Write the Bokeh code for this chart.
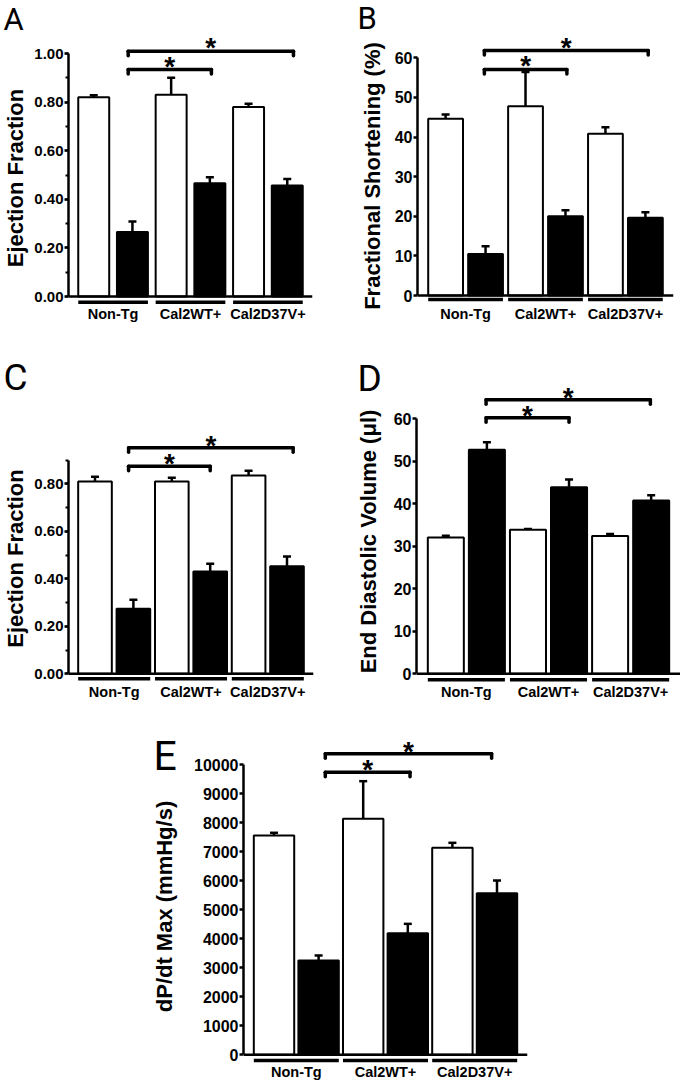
from bokeh.plotting import figure
from bokeh.layouts import row, column
from bokeh.models import (FactorRange, Range1d, Span, Label, SingleIntervalTicker,
                          NumeralTickFormatter, ColumnDataSource)
from bokeh.core.properties import value
from bokeh.embed import file_html
from bokeh.resources import INLINE

# ---------------- data ----------------
groups = ["Non-Tg", "Cal2WT+", "Cal2D37V+"]
conditions = ["open", "filled"]
comparisons = [("Non-Tg", "Cal2WT+"), ("Non-Tg", "Cal2D37V+")]

# A: Ejection Fraction
a_open = [0.82, 0.83, 0.78]
a_open_sem = [0.008, 0.07, 0.013]
a_filled = [0.265, 0.466, 0.457]
a_filled_sem = [0.044, 0.025, 0.027]
a_sig = [0.934, 1.009]

# B: Fractional Shortening (%)
b_open = [44.6, 47.8, 40.8]
b_open_sem = [1.1, 8.6, 1.7]
b_filled = [10.5, 20.0, 19.6]
b_filled_sem = [1.9, 1.5, 1.4]
b_sig = [57.05, 61.84]

# C: Ejection Fraction
c_open = [0.81, 0.81, 0.835]
c_open_sem = [0.02, 0.015, 0.02]
c_filled = [0.274, 0.431, 0.453]
c_filled_sem = [0.038, 0.032, 0.041]
c_sig = [0.874, 0.952]

# D: End Diastolic Volume (ul)
d_open = [32.1, 33.9, 32.4]
d_open_sem = [0.4, 0.15, 0.5]
d_filled = [52.7, 43.9, 40.8]
d_filled_sem = [1.8, 1.8, 1.2]
d_sig = [60.24, 64.47]

# E: dP/dt Max (mmHg/s)
e_open = [7560, 8140, 7140]
e_open_sem = [95, 1295, 170]
e_filled = [3250, 4190, 5570]
e_filled_sem = [175, 325, 440]
e_sig = [9745, 10379]

FONT = "Liberation Sans"


def make_panel(sp, opn, opn_sem, fil, fil_sem, sig, ylabel):
    ox, oy, w, h = sp["box"]
    mb_l = round(sp["L"] - ox)
    mb_r = round(ox + w - sp["R"])
    mb_t = round(sp["T"] - oy)
    mb_b = round(oy + h - sp["B"])
    L = ox + mb_l
    R = ox + w - mb_r
    T = oy + mb_t
    B = oy + h - mb_b
    ppy = sp["ppy"]
    zero = sp["zero"]
    y0 = -(B - zero) / ppy
    y1 = (zero - T) / ppy
    pad = sp["pad"]
    u = (R - L) / (6 + 2 * pad)

    def xsyn(px):
        return -pad + (px - L) / u

    def ysyn(py):
        return (zero - py) / ppy

    factors = [f"{g}|{c}" for g in groups for c in conditions]
    open_f = [f"{g}|open" for g in groups]
    fill_f = [f"{g}|filled" for g in groups]

    p = figure(width=w, height=h,
               x_range=FactorRange(factors=factors, factor_padding=0,
                                   range_padding=2 * pad / 6),
               y_range=Range1d(y0, y1),
               x_axis_location=None, output_backend="svg", toolbar_location=None,
               min_border_left=mb_l, min_border_right=mb_r,
               min_border_top=mb_t, min_border_bottom=mb_b)
    p.grid.visible = False
    p.outline_line_color = None
    p.background_fill_color = "white"
    p.border_fill_color = "white"

    bw = sp["bw"]
    src_o = ColumnDataSource(dict(x=open_f, top=opn,
                                  hi=[v + s for v, s in zip(opn, opn_sem)]))
    src_f = ColumnDataSource(dict(x=fill_f, top=fil,
                                  hi=[v + s for v, s in zip(fil, fil_sem)]))
    cap = sp["cap_px"] / u
    for src, col in ((src_o, "white"), (src_f, "black")):
        p.segment(x0="x", y0="top", x1="x", y1="hi", source=src,
                  line_color="black", line_width=2.5)
        d = src.data
        p.segment(x0=[(x, -cap) for x in d["x"]], x1=[(x, cap) for x in d["x"]],
                  y0=d["hi"], y1=d["hi"], line_color="black", line_width=2.5)
        p.vbar(x="x", top="top", bottom=0, width=bw, source=src,
               fill_color=col, line_color="black", line_width=2)

    # x axis line
    p.add_layout(Span(location=0, dimension="width", line_color="black",
                      line_width=2.5))

    # group underlines
    yu = -sp["under_px"] / ppy
    p.segment(x0=[(o, -bw / 2) for o in open_f], x1=[(f, bw / 2) for f in fill_f],
              y0=[yu] * 3, y1=[yu] * 3, line_color="black", line_width=3.5)
    # group labels
    p.text(x=[(o, 0.5) for o in open_f], y=[0] * 3, text=groups,
           y_offset=sp["label_px"], text_align="center", text_baseline="middle",
           text_font=value(FONT), text_font_style="bold",
           text_font_size=value(sp["cat_size"]), text_color="black")

    # significance brackets
    drop = sp["drop_px"] / ppy
    offL = sp["offs"][0]
    idx = {f: i for i, f in enumerate(factors)}
    sx0, sx1, sy0, sy1, stx, sty = [], [], [], [], [], []
    for k, (ga, gb) in enumerate(comparisons):
        lf = f"{ga}|filled"
        rf = f"{gb}|filled"
        offR = sp["offs"][k + 1]
        yb = sig[k]
        segs = [((lf, offL), yb - drop, (lf, offL), yb),
                ((lf, offL), yb, (rf, offR), yb),
                ((rf, offR), yb, (rf, offR), yb - drop)]
        for a, ya, b, yb2 in segs:
            sx0.append(a); sy0.append(ya); sx1.append(b); sy1.append(yb2)
        stx.append((lf, (idx[rf] - idx[lf] + offR + offL) / 2))
        sty.append(yb)
    p.segment(x0=sx0, y0=sy0, x1=sx1, y1=sy1, line_color="black",
              line_width=3.5, line_cap="round")
    p.text(x=stx, y=sty, text=["*"] * len(stx), y_offset=5 - sp["star_px"],
           text_align="center", text_baseline="alphabetic",
           text_font=value(FONT), text_font_style="bold",
           text_font_size=value("28px"), text_color="black")

    # y axis
    ax = p.yaxis[0]
    ax.bounds = sp["ybounds"]
    ax.ticker = SingleIntervalTicker(interval=sp["interval"],
                                     num_minor_ticks=sp["minor"])
    ax.formatter = NumeralTickFormatter(format=sp["fmt"])
    ax.major_label_text_font = FONT
    ax.major_label_text_font_style = "bold"
    ax.major_label_text_font_size = sp["tick_size"]
    ax.major_label_text_color = "black"
    ax.major_label_standoff = 1
    ax.axis_line_width = 2.5
    ax.axis_line_color = "black"
    ax.major_tick_line_width = 2.5
    ax.major_tick_line_color = "black"
    ax.minor_tick_line_width = 2
    ax.minor_tick_line_color = "black"
    ax.major_tick_in = 0
    ax.major_tick_out = 4
    ax.minor_tick_in = 0
    ax.minor_tick_out = 3

    # y title (rotated) and panel letter, placed in side panels (unclipped)
    tx, ty = sp["title_pos"]
    p.add_layout(Label(x=xsyn(tx), y=ysyn(ty), text=ylabel, angle=90,
                       angle_units="deg", text_font=FONT, text_font_style="bold",
                       text_font_size="22px", text_color="black",
                       text_align="center", text_baseline="middle"), "left")
    lx, lc = sp["letter_pos"]
    p.add_layout(Label(x=xsyn(lx), y=ysyn(lc), text=sp["letter"],
                       text_font="Roboto", text_font_size=sp["letter_size"],
                       text_color="black", text_align="left",
                       text_baseline="middle"), sp["letter_side"])
    return p


spec_a = dict(box=(0, 0, 340, 330), L=68, R=312, T=37, B=326, zero=296, ppy=243.0,
              pad=0.152, bw=0.80, ybounds=(0, 1.0), interval=0.2, minor=2,
              fmt="0.00", tick_size="15px", under_px=5.7, label_px=17,
              cat_size="14.5px", drop_px=4.5, star_px=8.5, offs=(-0.11, 0.04, 0.16),
              cap_px=4, letter="A", letter_pos=(3, 18.5), letter_size="31px",
              letter_side="above", title_pos=(15, 177.5))
spec_b = dict(box=(340, 0, 340, 330), L=417, R=673, T=37, B=326, zero=295,
              ppy=3.9617, pad=0.203, bw=0.87, ybounds=(0, 60), interval=10, minor=0,
              fmt="0", tick_size="16px", under_px=4, label_px=18,
              cat_size="14.5px", drop_px=4.5, star_px=8.5, offs=(-0.03, 0.035, 0.07),
              cap_px=4, letter="B", letter_pos=(357, 18), letter_size="31px",
              letter_side="above", title_pos=(372, 175.5))
spec_c = dict(box=(0, 330, 340, 375), L=68, R=313, T=375, B=700, zero=673.3,
              ppy=237.5, pad=0.19, bw=0.876, ybounds=(0, 0.9), interval=0.2, minor=2,
              fmt="0.00", tick_size="15px", under_px=5, label_px=18.4,
              cat_size="14.5px", drop_px=4.5, star_px=7.5, offs=(-0.125, 0.0, 0.16),
              cap_px=4, letter="C", letter_pos=(3, 377.4), letter_size="37px",
              letter_side="above", title_pos=(15, 558))
spec_d = dict(box=(340, 330, 340, 375), L=416, R=680, T=375, B=700, zero=673.3,
              ppy=4.25, pad=0.214, bw=0.877, ybounds=(0, 60), interval=10, minor=0,
              fmt="0", tick_size="16px", under_px=6, label_px=18.4,
              cat_size="14.5px", drop_px=4.5, star_px=7.5, offs=(-0.02, 0.0, -0.02),
              cap_px=4, letter="D", letter_pos=(357, 378.4), letter_size="37px",
              letter_side="above", title_pos=(368, 541))
spec_e = dict(box=(0, 705, 680, 376), L=243, R=527, T=735, B=1081, zero=1054.3,
              ppy=0.029, pad=0.184, bw=0.906, ybounds=(0, 10000), interval=1000,
              minor=0, fmt="0", tick_size="16px", under_px=5.7, label_px=17.4,
              cat_size="14.5px", drop_px=4.5, star_px=7.5, offs=(0.15, 0.05, -0.12),
              cap_px=4, letter="E", letter_pos=(153, 755), letter_size="41px",
              letter_side="left", title_pos=(164, 906))

pA = make_panel(spec_a, a_open, a_open_sem, a_filled, a_filled_sem, a_sig,
                "Ejection Fraction")
pB = make_panel(spec_b, b_open, b_open_sem, b_filled, b_filled_sem, b_sig,
                "Fractional Shortening (%)")
pC = make_panel(spec_c, c_open, c_open_sem, c_filled, c_filled_sem, c_sig,
                "Ejection Fraction")
pD = make_panel(spec_d, d_open, d_open_sem, d_filled, d_filled_sem, d_sig,
                "End Diastolic Volume (\u03bcl)")
pE = make_panel(spec_e, e_open, e_open_sem, e_filled, e_filled_sem, e_sig,
                "dP/dt Max (mmHg/s)")

layout = column(row(pA, pB), row(pC, pD), pE)
open("out.html", "w").write(file_html(layout, INLINE))
